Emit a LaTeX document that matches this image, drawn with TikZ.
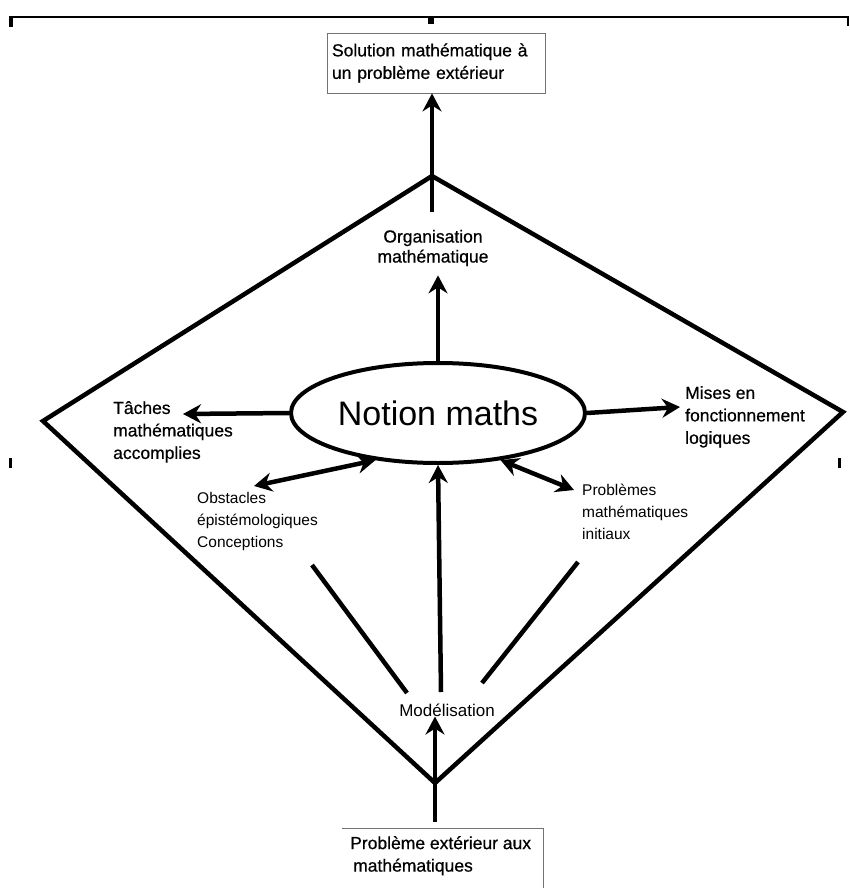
\documentclass[tikz,border=0pt]{standalone}
\usepackage{fontspec}
\setmainfont{Liberation Sans}
\newfontfamily\heavyfont[FakeBold=0.6]{Liberation Sans}
\usetikzlibrary{arrows.meta,shapes.geometric}
\begin{document}
\begin{tikzpicture}[x=1pt,y=-1pt,
  heavy/.style={line width=4.5pt},
  arr/.style={heavy,-{Stealth[length=18pt,width=19pt,inset=6pt]}},
  darr/.style={heavy,{Stealth[length=18pt,width=19pt,inset=6pt]}-{Stealth[length=18pt,width=19pt,inset=6pt]}},
  lbl/.style={font=\heavyfont\fontsize{17.5}{22.5}\selectfont, align=left, inner sep=0pt},
  lightlbl/.style={font=\fontsize{15.5}{22}\selectfont, align=left, inner sep=0pt},
  thinbox/.style={draw=black!55, line width=0.8pt}
]
\useasboundingbox (0,0) rectangle (849,888);
% frame marks
\draw[line width=1.2pt] (10,17) -- (848,17);
\fill (8.5,16.4) rectangle (13,27);
\fill (846.5,16.4) rectangle (849,26);
\fill (428,17) rectangle (434,24);
\fill (8.5,458) rectangle (12,468);
\fill (838,458) rectangle (841,468);
% diamond
\coordinate (T) at (432,176);
\coordinate (R) at (843,412);
\coordinate (B) at (435,783);
\coordinate (L) at (43,421);
\draw[heavy, line join=miter] (T) -- (R) -- (B) -- (L) -- cycle;
% top box
\node[thinbox, lbl, minimum width=218pt, minimum height=60pt, text width=208pt, inner sep=5pt] (sol) at (436,63) {Solution mathématique à\\un problème extérieur};
% bottom box
\node[lbl, anchor=north west] (prob) at (350,836) {Problème extérieur aux\\\hspace*{3pt}mathématiques};
\draw[thinbox] (342,828) -- (543,828) -- (543,888);
% ellipse
\node[draw, ellipse, line width=4pt, minimum width=294pt, minimum height=100pt, inner sep=0pt, font=\fontsize{34}{40}\selectfont] (notion) at (438,413) {Notion maths};
% labels
\node[lbl, align=center, font=\heavyfont\fontsize{17.5}{20}\selectfont] (org) at (433,248) {Organisation\\mathématique};
\node[lbl, anchor=north west] (taches) at (113,401) {Tâches\\mathématiques\\accomplies};
\node[lbl, anchor=north west] (mises) at (685,386) {Mises en\\fonctionnement\\logiques};
\node[lightlbl, anchor=north west] (obst) at (197,492) {Obstacles\\épistémologiques\\Conceptions};
\node[lightlbl, anchor=north west] (probm) at (582,484) {Problèmes\\mathématiques\\initiaux};
\node[lightlbl, font=\fontsize{17}{20}\selectfont] (model) at (447,710) {Modélisation};
% connectors
\coordinate (a1) at (432,212);
\draw[arr] (a1) -- (a1 |- sol.south);
\draw[arr, shorten >=9pt] (notion.north) -- (notion.north |- org.south);
\coordinate (tt) at (183,414);
\draw[arr] (notion.west) -- (tt);
\coordinate (mt) at (680,407);
\draw[arr] (notion.east) -- (mt);
\coordinate (ob) at (254,486);
\draw[darr] (ob) -- (notion.217.5);
\coordinate (pb) at (574,490);
\draw[darr] (pb) -- (notion.323.4);
\coordinate (mtop) at (441,692);
\draw[arr] (mtop) -- (notion.south);
\coordinate (c1) at (312,565);
\coordinate (c2) at (407,693);
\draw[heavy] (c1) -- (c2);
\coordinate (p1) at (578,562);
\coordinate (p2) at (482,683);
\draw[heavy] (p1) -- (p2);
\coordinate (bs) at (435,822);
\draw[arr] (bs) -- (bs |- model.south);
\end{tikzpicture}
\end{document}
